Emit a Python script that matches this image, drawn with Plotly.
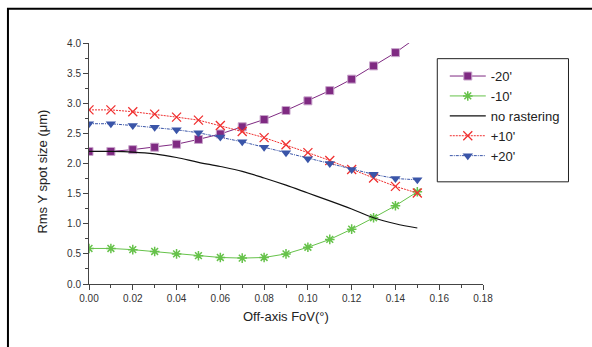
import plotly.graph_objects as go

fov = [0.00, 0.01, 0.02, 0.03, 0.04, 0.05, 0.06, 0.07, 0.08, 0.09, 0.10, 0.11, 0.12, 0.13, 0.14, 0.15]
minus20 = [2.20, 2.20, 2.23, 2.27, 2.32, 2.40, 2.49, 2.61, 2.73, 2.88, 3.04, 3.21, 3.40, 3.62, 3.84, 4.10]
minus10 = [0.59, 0.59, 0.57, 0.54, 0.50, 0.47, 0.44, 0.43, 0.44, 0.50, 0.61, 0.74, 0.91, 1.10, 1.30, 1.53]
no_raster = [2.20, 2.20, 2.19, 2.16, 2.10, 2.02, 1.95, 1.87, 1.76, 1.64, 1.51, 1.38, 1.245, 1.10, 1.00, 0.93]
plus10 = [2.89, 2.89, 2.86, 2.82, 2.77, 2.72, 2.63, 2.53, 2.43, 2.31, 2.18, 2.05, 1.90, 1.76, 1.62, 1.51]
plus20 = [2.66, 2.66, 2.63, 2.60, 2.56, 2.51, 2.44, 2.36, 2.27, 2.18, 2.08, 2.00, 1.90, 1.82, 1.75, 1.73]

x_ticks = [0.00, 0.02, 0.04, 0.06, 0.08, 0.10, 0.12, 0.14, 0.16, 0.18]
y_ticks = [0.0, 0.5, 1.0, 1.5, 2.0, 2.5, 3.0, 3.5, 4.0]

fig = go.Figure()
fig.add_trace(go.Scatter(x=fov, y=minus20, name="-20'", mode="lines+markers",
                         line=dict(color="#7F2A82", width=1),
                         marker=dict(symbol="square", size=8, color="#7F2A82",
                                     line=dict(color="#C9A6CC", width=1))))
fig.add_trace(go.Scatter(x=fov, y=minus10, name="-10'", mode="lines+markers",
                         line=dict(color="#66C24A", width=1),
                         marker=dict(symbol="asterisk-open", size=8,
                                     line=dict(color="#55B53A", width=1.5))))
fig.add_trace(go.Scatter(x=fov, y=no_raster, name="no rastering", mode="lines",
                         line=dict(color="#111111", width=1.2, shape="spline")))
fig.add_trace(go.Scatter(x=fov, y=plus10, name="+10'", mode="lines+markers",
                         line=dict(color="#F03030", width=1, dash="2px,1px"),
                         marker=dict(symbol="x-thin-open", size=9,
                                     line=dict(color="#F03030", width=1.3))))
fig.add_trace(go.Scatter(x=fov, y=plus20, name="+20'", mode="lines+markers",
                         line=dict(color="#3A55A8", width=1, dash="3px,1px,1px,1px"),
                         marker=dict(symbol="triangle-down", size=9, color="#3A55A8")))

axis_font = dict(family="Liberation Sans, Arial, sans-serif", size=10, color="#333333")
title_font = dict(family="Liberation Sans, Arial, sans-serif", size=13, color="#222222")

fig.update_xaxes(range=[0, 0.18], tickvals=x_ticks, ticktext=[f"{v:.2f}" for v in x_ticks],
                 showline=True, linecolor="#444444", linewidth=1, ticks="outside",
                 ticklen=5, tickcolor="#444444", showgrid=False, zeroline=False,
                 tickfont=axis_font, automargin=False,
                 minor=dict(ticks="outside", ticklen=3, dtick=0.01, tickcolor="#444444", showgrid=False))
fig.update_yaxes(range=[0, 4.0], tickvals=y_ticks, ticktext=[f"{v:.1f}" for v in y_ticks],
                 showline=True, linecolor="#444444", linewidth=1, ticks="outside",
                 ticklen=5, tickcolor="#444444", showgrid=False, zeroline=False,
                 tickfont=axis_font, automargin=False,
                 minor=dict(ticks="outside", ticklen=3, dtick=0.25, tickcolor="#444444", showgrid=False))

fig.add_annotation(text="Off-axis FoV(°)", xref="paper", yref="paper", x=0.5, y=-0.136,
                   xanchor="center", yanchor="middle", showarrow=False, font=title_font)
fig.add_annotation(text="Rms Y spot size (μm)", xref="paper", yref="paper", x=-0.117, y=0.466,
                   xanchor="center", yanchor="middle", showarrow=False, font=title_font,
                   textangle=-90)

fig.add_shape(type="rect", xref="paper", yref="paper", x0=-0.2057, x1=1.30, y0=-0.30, y1=1.142,
              line=dict(color="black", width=2), layer="below")
fig.add_shape(type="rect", xref="paper", yref="paper", x0=0.884, x1=1.217, y0=0.424, y1=0.935,
              line=dict(color="#222222", width=1))

fig.update_layout(
    width=592, height=347,
    margin=dict(l=89, r=109, t=43, b=63),
    paper_bgcolor="white", plot_bgcolor="white",
    showlegend=True,
    legend=dict(x=0.903, y=0.925, xanchor="left", yanchor="top",
                bgcolor="rgba(0,0,0,0)", borderwidth=0,
                font=dict(family="Liberation Sans, Arial, sans-serif", size=13, color="#222222"),
                itemwidth=36, tracegroupgap=0),
)

fig.write_html("out.html", config={"displayModeBar": False},
               post_script="document.body.style.margin='0px';")
